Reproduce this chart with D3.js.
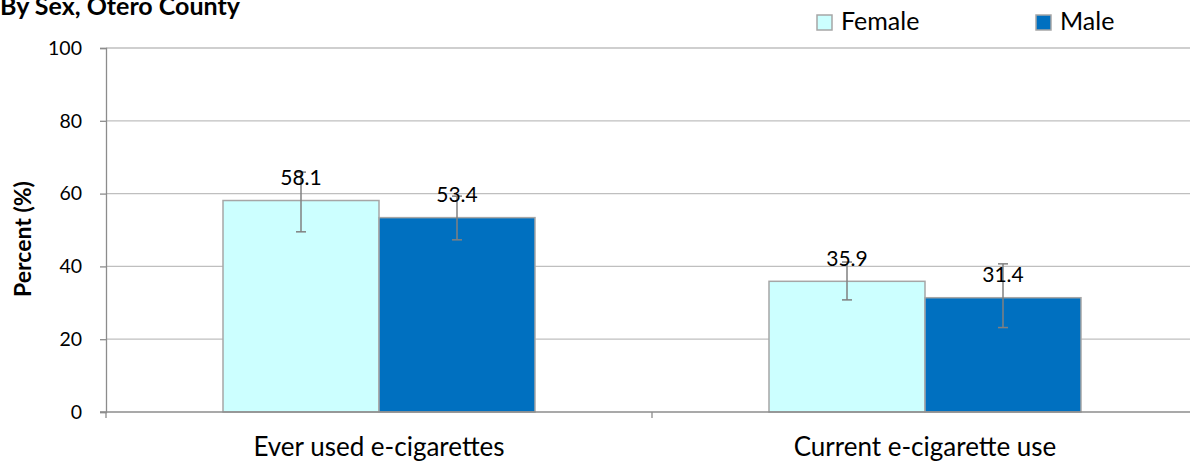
<!DOCTYPE html>
<html><head><meta charset="utf-8">
<script src="https://cdn.jsdelivr.net/npm/d3@7"></script>
<style>body{margin:0;background:#fff}svg{display:block}text{font-family:Lato,sans-serif;fill:#000}</style>
</head><body>
<script>
const categories = ["Ever used e-cigarettes", "Current e-cigarette use"];
const seriesNames = ["Female", "Male"];
const femaleValues = [58.1, 35.9];
const maleValues = [53.4, 31.4];
const femaleLow = [49.5, 30.8];
const femaleHigh = [65.9, 41.2];
const maleLow = [47.3, 23.2];
const maleHigh = [59.3, 40.7];
const yTicks = [0, 20, 40, 60, 80, 100];
const colors = ["#ccffff", "#0070c0"];

(function () {
const W = 1190, H = 466;
const svg = d3.select("body").append("svg").attr("width", W).attr("height", H);
const mLeft = 106, mRight = 1198, mTop = 48, mBottom = 412;

const x = d3.scaleBand().domain(categories).range([mLeft, mRight]).paddingInner(0).paddingOuter(0);
const xs = d3.scaleBand().domain(seriesNames).range([0, x.bandwidth()]).paddingInner(0).paddingOuter(0.75);
const y = d3.scaleLinear().domain([0, 100]).range([mBottom, mTop]);

svg.append("g").selectAll("line").data(yTicks.filter(d => d > 0)).join("line")
  .attr("x1", mLeft).attr("x2", mRight).attr("y1", d => y(d)).attr("y2", d => y(d))
  .attr("stroke", "#bfbfbf").attr("stroke-width", 1.3);

const ya = svg.append("g").attr("transform", `translate(${mLeft},0)`)
  .call(d3.axisLeft(y).tickValues(yTicks).tickSize(6).tickPadding(18));
ya.select(".domain").attr("stroke", "#8c8c8c").attr("stroke-width", 1.3);
ya.selectAll(".tick line").attr("stroke", "#8c8c8c").attr("stroke-width", 1.3);
ya.selectAll("text").attr("font-size", 19.5).attr("fill", "#000").attr("font-family", "Lato");

const rows = categories.map((c, i) => ({
  cat: c,
  vals: [
    {s: "Female", v: femaleValues[i], lo: femaleLow[i], hi: femaleHigh[i]},
    {s: "Male", v: maleValues[i], lo: maleLow[i], hi: maleHigh[i]}
  ]
}));

const g = svg.append("g").selectAll("g").data(rows).join("g")
  .attr("transform", d => `translate(${x(d.cat)},0)`);

g.selectAll("rect").data(d => d.vals).join("rect")
  .attr("x", d => xs(d.s)).attr("width", xs.bandwidth())
  .attr("y", d => y(d.v)).attr("height", d => y(0) - y(d.v))
  .attr("fill", (d, i) => colors[i]).attr("stroke", "#a6a6a6").attr("stroke-width", 1.5);

const xa = svg.append("g").attr("transform", `translate(0,${mBottom})`);
xa.append("line").attr("x1", mLeft - 6).attr("x2", mRight).attr("y1", 0).attr("y2", 0)
  .attr("stroke", "#8c8c8c").attr("stroke-width", 1.3);
xa.selectAll("line.tk").data([mLeft, x(categories[1]), mRight]).join("line").attr("class", "tk")
  .attr("x1", d => d).attr("x2", d => d).attr("y1", 0).attr("y2", 6)
  .attr("stroke", "#8c8c8c").attr("stroke-width", 1.3);
xa.selectAll("text").data(categories).join("text")
  .attr("x", d => x(d) + x.bandwidth() / 2).attr("y", 44)
  .attr("text-anchor", "middle").attr("font-size", 26).text(d => d);

const eb = g.selectAll("g.eb").data(d => d.vals).join("g").attr("class", "eb")
  .attr("transform", d => `translate(${xs(d.s) + xs.bandwidth() / 2},0)`);
eb.append("line").attr("y1", d => y(d.lo)).attr("y2", d => y(d.hi))
  .attr("stroke", "#808080").attr("stroke-width", 1.5);
eb.append("line").attr("x1", -5).attr("x2", 5).attr("y1", d => y(d.lo)).attr("y2", d => y(d.lo))
  .attr("stroke", "#808080").attr("stroke-width", 1.5);
eb.append("line").attr("x1", -5).attr("x2", 5).attr("y1", d => y(d.hi)).attr("y2", d => y(d.hi))
  .attr("stroke", "#808080").attr("stroke-width", 1.5);

g.selectAll("text.val").data(d => d.vals).join("text").attr("class", "val")
  .attr("x", d => xs(d.s) + xs.bandwidth() / 2).attr("y", d => y(d.v) - 15.5)
  .attr("text-anchor", "middle").attr("font-size", 21).attr("fill", "#000")
  .text(d => d.v.toFixed(1));

svg.append("text").attr("transform", "translate(31,239) rotate(-90)")
  .attr("text-anchor", "middle").attr("font-size", 23).attr("font-weight", "bold").text("Percent (%)");

svg.append("text").attr("x", 0).attr("y", 14.5).attr("font-size", 25).attr("font-weight", "bold")
  .text("By Sex, Otero County");

const lg = svg.append("g").selectAll("g").data(seriesNames).join("g")
  .attr("transform", (d, i) => `translate(${[817, 1036][i]},15)`);
lg.append("rect").attr("width", 15).attr("height", 15).attr("fill", (d, i) => colors[i])
  .attr("stroke", "#a6a6a6").attr("stroke-width", 1.5);
lg.append("text").attr("x", 24).attr("y", 15).attr("font-size", 25).text(d => d);
})();
</script>
</body></html>
